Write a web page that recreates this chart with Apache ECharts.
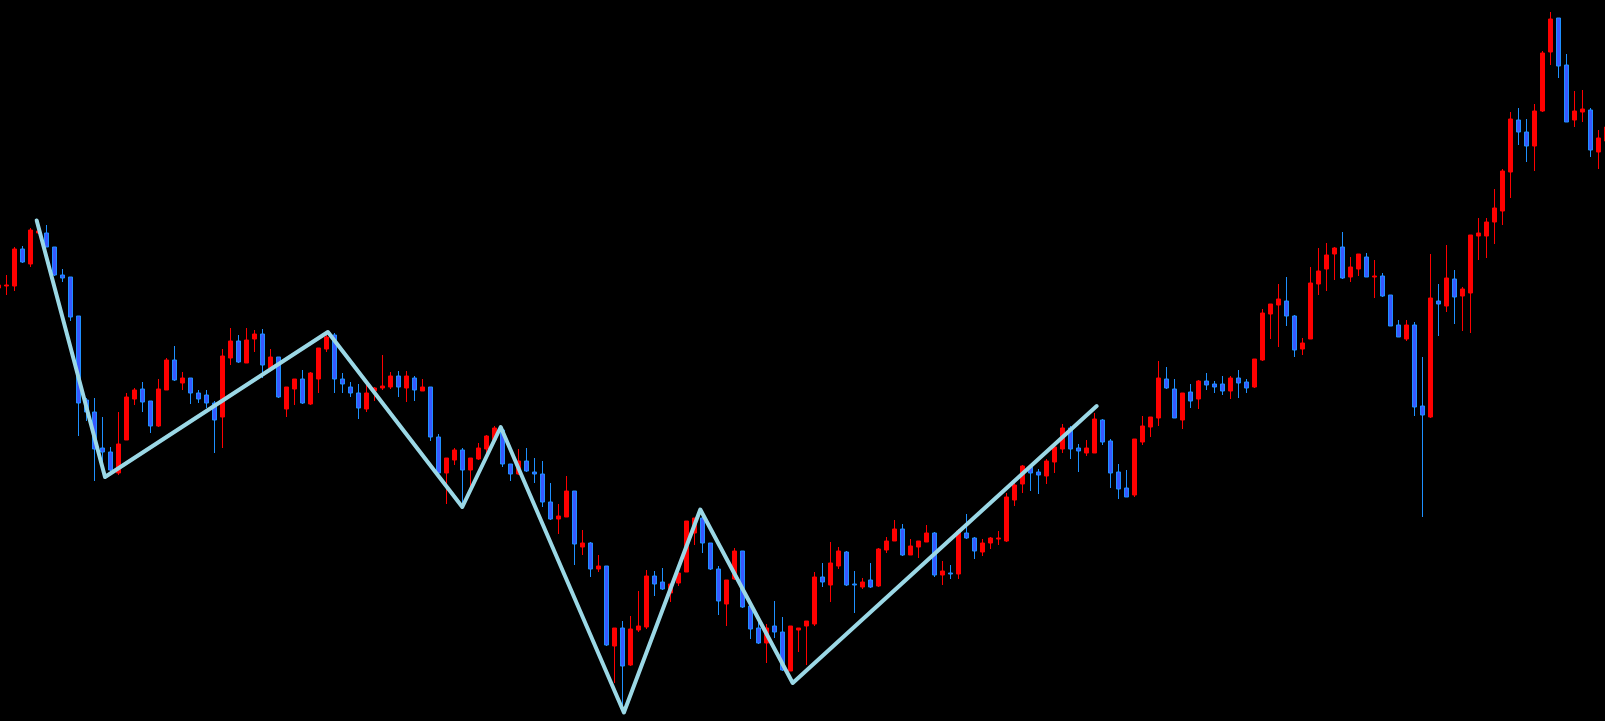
<!DOCTYPE html>
<html>
<head>
<meta charset="utf-8">
<script src="https://cdn.jsdelivr.net/npm/echarts@6/dist/echarts.min.js"></script>
<style>
html,body{margin:0;padding:0;background:#000;}
#chart{width:1605px;height:721px;}
</style>
</head>
<body>
<div id="chart"></div>
<script>
// OHLC values (price units), one entry per bar
const opens = [433,435,435,472,457,488,488,474,446,444,405,321,309,273,269,248,281,322,332,320,295,331,361,338,343,328,326,318,304,363,380,358,382,387,353,364,312,332,342,317,342,372,386,342,334,328,312,330,333,334,345,333,343,330,334,284,248,261,271,251,262,272,281,291,257,247,260,249,247,219,202,204,230,174,178,152,155,75,93,56,91,94,145,139,128,138,149,188,203,178,152,117,142,170,115,93,78,95,89,50,91,95,97,144,136,155,169,137,134,141,135,171,180,192,166,174,179,188,146,148,147,188,183,169,178,182,180,221,237,254,249,245,259,272,293,273,268,268,301,280,249,233,226,279,294,303,342,332,301,329,322,340,337,337,330,343,339,334,361,407,416,420,405,372,382,437,452,467,474,444,452,464,444,445,426,396,382,396,315,304,420,415,442,425,428,485,485,499,510,549,601,589,575,610,669,703,656,601,609,611,569,580];
const closes = [436,436,472,459,491,490,474,446,443,404,318,309,272,269,251,277,324,331,319,295,332,361,341,343,328,322,318,301,365,380,359,381,387,356,364,324,334,342,318,348,373,384,342,337,328,313,328,333,335,345,334,345,331,334,284,248,263,271,251,263,273,285,293,257,247,260,250,247,219,202,205,230,177,178,152,155,76,93,55,92,95,145,137,132,137,148,200,203,178,152,120,141,170,114,92,78,93,89,51,95,93,100,144,139,158,170,136,136,139,134,172,180,192,166,175,180,188,146,150,147,190,183,170,178,183,183,224,236,255,248,246,260,274,293,272,270,273,302,279,248,232,224,282,295,304,343,333,303,328,320,340,336,334,330,343,338,333,362,408,417,422,405,371,378,438,450,466,473,443,454,467,444,445,425,395,384,396,314,306,423,417,443,424,432,486,488,499,513,550,602,589,575,610,668,702,655,599,610,612,571,583,594];
const lows = [431,426,430,458,454,487,474,445,439,400,285,300,240,251,246,246,281,316,309,288,294,331,340,331,317,318,313,268,273,356,358,358,369,343,351,323,304,316,317,316,328,369,328,328,324,302,309,320,331,332,324,319,320,330,280,246,217,256,218,234,261,268,280,254,240,246,249,238,214,201,187,204,156,166,144,149,75,38,15,55,89,92,125,131,119,135,149,176,168,151,106,95,141,113,82,77,58,83,50,50,69,56,95,134,119,152,135,108,132,133,134,168,180,165,166,163,179,144,136,142,142,182,162,165,172,176,179,215,228,230,227,237,248,268,262,249,265,268,276,233,222,224,224,276,284,295,332,303,292,313,312,331,328,326,322,323,328,333,360,382,374,395,364,366,382,426,430,441,442,439,445,444,423,424,395,384,380,305,204,303,385,409,397,390,388,461,463,477,496,523,576,559,550,609,656,643,599,594,599,564,552,579];
const highs = [438,446,474,475,493,492,496,474,452,444,405,323,323,304,274,309,328,333,339,320,342,363,375,349,343,331,331,320,372,393,386,393,391,392,372,364,334,342,351,349,373,388,388,348,339,337,337,334,366,349,350,350,345,342,334,287,263,273,273,263,278,286,295,293,257,272,273,263,260,238,217,245,230,191,179,166,155,93,100,105,130,151,150,153,137,148,200,203,204,178,155,141,173,170,115,99,97,120,104,95,93,100,149,158,179,174,170,150,143,158,173,184,201,197,182,180,196,189,160,156,192,207,184,182,184,190,228,239,256,256,252,262,279,297,295,277,281,308,302,282,257,251,282,305,304,360,354,342,328,337,341,348,340,345,345,351,342,362,412,417,437,444,406,383,454,473,478,474,489,464,467,468,461,448,426,401,401,399,364,467,437,476,451,434,486,503,503,532,552,609,613,602,617,670,709,703,667,630,631,613,591,596];

// zigzag turning points: [bar position, price]
const zigzagPos = [4.8, 13.34, 41.2, 58.0, 62.8, 78.2, 87.75, 99.3, 137.3];
const zigzagVal = [500.5, 244, 389, 214, 294, 8.5, 211.5, 38, 315];

const categories = opens.map((_, i) => String(i));
const candleData = opens.map((o, i) => [o, closes[i], lows[i], highs[i]]);
const zigzagData = zigzagPos.map((p, i) => [p, zigzagVal[i]]);

const N = categories.length;
const band = 8;
const chart = echarts.init(document.getElementById('chart'), null, {renderer: 'canvas'});
chart.setOption({
  backgroundColor: '#000000',
  animation: false,
  grid: {left: -5.7, top: 0, width: N * band, height: 721, containLabel: false, outerBoundsMode: 'none'},
  xAxis: [
    {type: 'category', data: categories, boundaryGap: true, show: false},
    {type: 'value', min: -0.5, max: N - 0.5, show: false}
  ],
  yAxis: {type: 'value', min: 0, max: 721, show: false},
  series: [
    {
      type: 'candlestick',
      data: candleData,
      barWidth: 5,
      itemStyle: {
        color: '#ff0000',
        borderColor: '#ff0000',
        color0: '#3858ff',
        borderColor0: '#1e90ff',
        borderWidth: 1
      }
    },
    {
      type: 'line',
      xAxisIndex: 1,
      data: zigzagData,
      symbol: 'none',
      lineStyle: {color: '#9bd8e6', width: 4, cap: 'round', join: 'round'},
      z: 5
    }
  ]
});
</script>
</body>
</html>
